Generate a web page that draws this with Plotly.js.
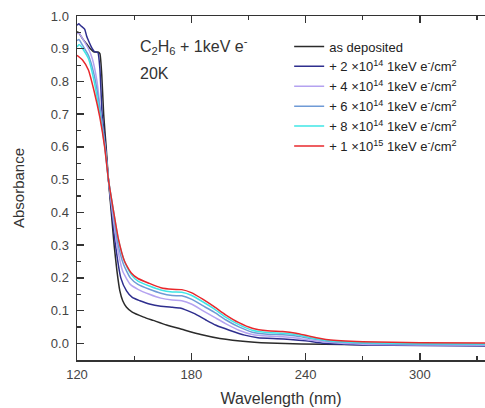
<!DOCTYPE html>
<html>
<head>
<meta charset="utf-8">
<script src="https://cdn.plot.ly/plotly-3.0.1.min.js"></script>
<style>html,body{margin:0;padding:0;background:#fff}#chart{width:485px;height:408px}</style>
</head>
<body>
<div id="chart"></div>
<script>
const seriesNames = [
  "as deposited",
  "+ 2 ×10<sup>14</sup> 1keV e<sup>-</sup>/cm<sup>2</sup>",
  "+ 4 ×10<sup>14</sup> 1keV e<sup>-</sup>/cm<sup>2</sup>",
  "+ 6 ×10<sup>14</sup> 1keV e<sup>-</sup>/cm<sup>2</sup>",
  "+ 8 ×10<sup>14</sup> 1keV e<sup>-</sup>/cm<sup>2</sup>",
  "+ 1 ×10<sup>15</sup> 1keV e<sup>-</sup>/cm<sup>2</sup>"
];
const seriesColors = ["#2b2b2b", "#2e2e8e", "#b4a2f0", "#6f9ad6", "#3fe6e6", "#e8282c"];

const xDeposited = [120,121,123,125,127,129,131,132,133,134,135.3,136.5,138,139.5,141,142.5,144,146,149,155,160,167,175,185,195,210,225,250,290,335];
const yDeposited = [0.952,0.948,0.93,0.915,0.9,0.89,0.89,0.885,0.82,0.7,0.6,0.5,0.4,0.3,0.22,0.16,0.13,0.11,0.095,0.08,0.07,0.056,0.043,0.027,0.015,0.005,0.0,-0.003,-0.005,-0.005];

const x2e14 = [120,121,122,124,125,126,128,129,130,131,132,133.2,135,136.5,138.3,140.2,143,146,149,153,158,164,170,174,178,182,188,193,200,208,215,225,232,240,250,270,300,335];
const y2e14 = [0.972,0.976,0.97,0.96,0.94,0.925,0.9,0.892,0.89,0.888,0.84,0.7,0.6,0.5,0.4,0.3,0.2,0.16,0.14,0.13,0.12,0.113,0.11,0.108,0.1,0.09,0.07,0.055,0.04,0.025,0.017,0.014,0.012,0.008,0.0,-0.005,-0.007,-0.008];

const x4e14 = [120,121,123,126,128,130.5,132.5,134.8,136.5,138.6,141,144,148,152,158,164,170,175,180,186,192,198,205,212,220,228,235,242,252,270,300,335];
const y4e14 = [0.945,0.948,0.93,0.9,0.87,0.8,0.7,0.6,0.5,0.4,0.3,0.22,0.18,0.165,0.15,0.138,0.132,0.13,0.12,0.1,0.08,0.06,0.04,0.027,0.022,0.02,0.016,0.01,0.003,-0.003,-0.005,-0.006];

const x6e14 = [120,121,123,126,129,132,134.7,136.5,138.8,141.3,144.5,148,152,158,164,170,175,180,186,192,198,205,212,220,228,235,242,252,270,300,335];
const y6e14 = [0.925,0.928,0.91,0.88,0.82,0.72,0.6,0.5,0.41,0.31,0.24,0.2,0.18,0.165,0.153,0.146,0.145,0.135,0.115,0.095,0.072,0.05,0.034,0.028,0.026,0.022,0.015,0.006,0.0,-0.003,-0.004];

const x8e14 = [120,121,121.5,123,126,129,132,134.6,136.5,139,141.6,145,148.5,152,158,164,170,175,180,186,192,198,205,212,220,228,235,242,252,270,300,335];
const y8e14 = [0.905,0.912,0.912,0.9,0.87,0.8,0.7,0.6,0.5,0.41,0.32,0.25,0.21,0.19,0.175,0.163,0.157,0.156,0.147,0.127,0.105,0.08,0.057,0.04,0.033,0.031,0.027,0.018,0.008,0.002,-0.001,-0.002];

const x1e15 = [120,123,126,129,132,134.5,136.5,139,141.7,145,148.5,152,158,164,170,175,180,186,192,198,205,212,220,228,235,242,252,270,300,335];
const y1e15 = [0.88,0.865,0.835,0.77,0.69,0.6,0.5,0.41,0.32,0.25,0.215,0.198,0.183,0.17,0.165,0.164,0.155,0.135,0.112,0.087,0.063,0.046,0.038,0.036,0.031,0.022,0.011,0.005,0.002,0.001];

const xs = [xDeposited, x2e14, x4e14, x6e14, x8e14, x1e15];
const ys = [yDeposited, y2e14, y4e14, y6e14, y8e14, y1e15];

const xTickVals = [120, 180, 240, 300];

const traces = xs.map((x, i) => ({
  x: x, y: ys[i], type: "scatter", mode: "lines",
  name: seriesNames[i],
  line: {color: seriesColors[i], width: 1.5, shape: "spline", smoothing: 0.5}
}));

const FONT = "Liberation Sans, Arial, sans-serif";
const axisFont = {family: FONT, size: 13, color: "#444"};

const layout = {
  width: 485, height: 408,
  margin: {l: 77, r: 0, t: 16, b: 48},
  paper_bgcolor: "#fff", plot_bgcolor: "#fff",
  showlegend: true,
  legend: {
    x: 0.52, y: 0.955, xanchor: "left", yanchor: "top",
    bgcolor: "rgba(0,0,0,0)",
    font: {family: FONT, size: 13, color: "#222"},
    tracegroupgap: 0
  },
  xaxis: {
    range: [120, 334.2],
    tickvals: xTickVals,
    ticks: "inside", ticklen: 7, tickwidth: 1.5, tickcolor: "#333",
    minor: {dtick: 30, tick0: 120, ticks: "inside", ticklen: 4, tickwidth: 1.2, tickcolor: "#333"},
    showline: true, linecolor: "#333", linewidth: 1.5, mirror: "ticks",
    showgrid: false, zeroline: false,
    tickfont: axisFont, ticklabelstandoff: 2,
    title: {text: "Wavelength (nm)", font: {family: FONT, size: 16, color: "#333"}, standoff: 11}
  },
  yaxis: {
    range: [-0.051, 1.0],
    dtick: 0.1, tick0: 0, tickformat: ".1f",
    ticks: "inside", ticklen: 7, tickwidth: 1.5, tickcolor: "#333",
    minor: {dtick: 0.05, tick0: 0, ticks: "inside", ticklen: 4, tickwidth: 1.2, tickcolor: "#333"},
    showline: true, linecolor: "#333", linewidth: 1.5, mirror: false,
    showgrid: false, zeroline: false,
    tickfont: axisFont, ticklabelstandoff: 4,
    title: {text: "Absorbance", font: {family: FONT, size: 15, color: "#333"}, standoff: 22}
  },
  annotations: [
    {xref: "paper", yref: "paper", x: 0.149, y: 0.912, xanchor: "left", yanchor: "middle", showarrow: false,
     text: "C<sub>2</sub>H<sub>6</sub> + 1keV e<sup>-</sup>",
     font: {family: FONT, size: 16, color: "#333"}},
    {xref: "paper", yref: "paper", x: 0.149, y: 0.833, xanchor: "left", yanchor: "middle", showarrow: false,
     text: "20K",
     font: {family: FONT, size: 16, color: "#333"}}
  ]
};

Plotly.newPlot("chart", traces, layout, {displayModeBar: false, staticPlot: true});
</script>
</body>
</html>
